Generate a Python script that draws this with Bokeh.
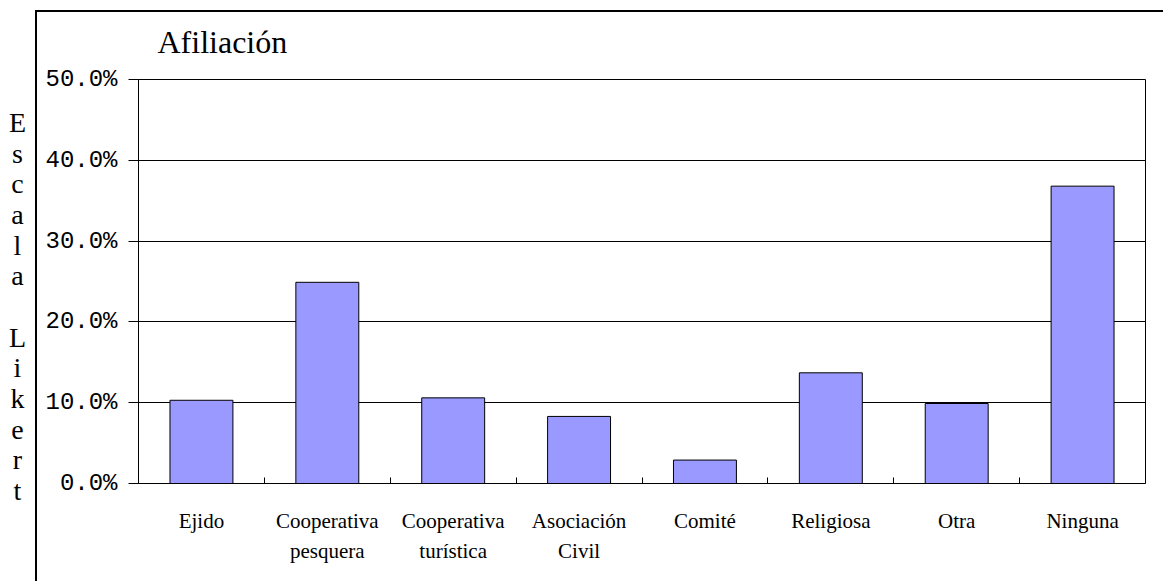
from bokeh.plotting import figure
from bokeh.models import (FixedTicker, PrintfTickFormatter, Range1d, ColumnDataSource, Div)
from bokeh.layouts import row
from bokeh.embed import file_html
from bokeh.resources import INLINE

# ---- data ----
categories = ["Ejido", "Cooperativa\npesquera", "Cooperativa\nturística",
              "Asociación\nCivil", "Comité", "Religiosa", "Otra", "Ninguna"]
values = [10.3, 24.9, 10.6, 8.3, 2.9, 13.7, 9.9, 36.8]
y_ticks = [0, 10, 20, 30, 40, 50]
title_text = "Afiliación"
axis_title = "Escala Likert"

n = len(categories)
centers = [i + 0.5 for i in range(n)]
src = ColumnDataSource(dict(x=centers, top=values))

p = figure(width=1128, height=581, output_backend="svg", toolbar_location=None,
           x_range=Range1d(0, n), y_range=Range1d(0, y_ticks[-1]),
           min_border_left=103, min_border_right=18, min_border_top=79,
           min_border_bottom=98, background_fill_color="white",
           border_fill_color=None)
p.margin = (0, 0, 0, 0)
# outer chart-area frame (top and left edges), drawn behind the transparent border
p.styles = {
    "background-color": "white",
    "background-image": "linear-gradient(black, black), linear-gradient(black, black)",
    "background-size": "100% 2px, 2px 100%",
    "background-position": "0 10px, 0 10px",
    "background-repeat": "no-repeat",
}

p.vbar(x="x", top="top", width=0.5, bottom=0, source=src,
       fill_color="#9999FF", line_color="black", line_width=1)

# title
p.title.text = title_text
p.title.text_font = "Liberation Serif"
p.title.text_font_size = "32px"
p.title.text_font_style = "normal"
p.title.text_color = "black"
p.title.align = "left"
p.title.offset = 19
p.title.standoff = 39

# outline of plot area
p.outline_line_color = "black"
p.outline_line_width = 1

# grid
p.xgrid.visible = False
p.ygrid.ticker = FixedTicker(ticks=y_ticks)
p.ygrid.grid_line_color = "black"
p.ygrid.grid_line_width = 1

# y axis
p.yaxis.ticker = FixedTicker(ticks=y_ticks)
p.yaxis.formatter = PrintfTickFormatter(format="%.1f%%")
p.yaxis.major_label_text_font = "Liberation Mono"
p.yaxis.major_label_text_font_size = "24px"
p.yaxis.major_label_text_color = "black"
p.yaxis.major_tick_out = 10
p.yaxis.major_tick_in = 0
p.yaxis.minor_tick_line_color = None
p.yaxis.major_label_standoff = 11
p.yaxis.axis_line_color = "black"
p.yaxis.major_tick_line_color = "black"

# x axis
p.xaxis.ticker = FixedTicker(ticks=centers, minor_ticks=list(range(1, n)))
p.xaxis.major_label_overrides = {c: lab for c, lab in zip(centers, categories)}
p.xaxis.major_tick_in = 0
p.xaxis.major_tick_out = 0
p.xaxis.minor_tick_in = 6
p.xaxis.minor_tick_out = 0
p.xaxis.minor_tick_line_color = "black"
p.xaxis.axis_line_color = "black"
p.xaxis.major_label_text_font = "Liberation Serif"
p.xaxis.major_label_text_font_size = "21px"
p.xaxis.major_label_text_color = "black"
p.xaxis.major_label_text_line_height = 1.29
p.xaxis.major_label_standoff = 25

# stacked vertical axis title (outside the chart frame, at left)
letters_html = "<br>".join(ch if ch != " " else "&nbsp;" for ch in axis_title)
side = Div(text=("<div style='font-family:\"Liberation Serif\";font-size:28px;"
                 "line-height:30.67px;text-align:center;width:35px;"
                 "padding-top:108px;color:black;margin:0'>" + letters_html + "</div>"),
           width=35, height=581, margin=(0, 0, 0, 0))

layout = row(side, p, spacing=0)
open("out.html", "w").write(file_html(layout, INLINE))
